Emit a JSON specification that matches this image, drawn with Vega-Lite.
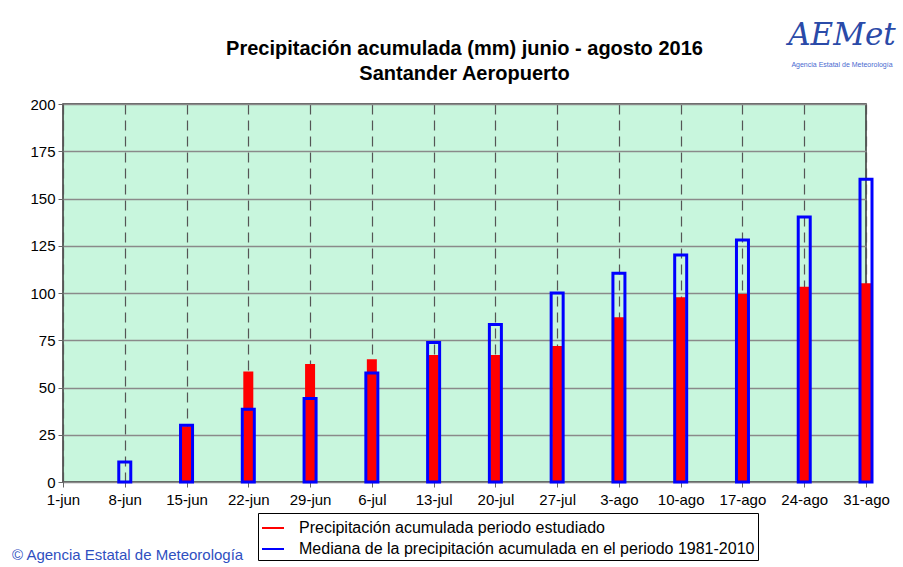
{
  "$schema": "https://vega.github.io/schema/vega-lite/v6.json",
  "width": 803,
  "height": 378,
  "autosize": {"type": "none"},
  "padding": {"left": 63, "top": 104, "right": 37, "bottom": 85},
  "background": "white",
  "title": {
    "text": "Precipitación acumulada (mm) junio - agosto 2016",
    "subtitle": "Santander Aeropuerto",
    "frame": "group",
    "anchor": "middle",
    "fontSize": 20,
    "subtitleFontSize": 20,
    "fontWeight": "bold",
    "subtitleFontWeight": "bold",
    "subtitleColor": "black",
    "color": "black",
    "offset": -64,
    "subtitlePadding": 5
  },
  "config": {
    "font": "Liberation Sans",
    "view": {"fill": "#c8f6dd", "stroke": "#333333", "strokeWidth": 1.5},
    "axis": {"labelFont": "Liberation Sans", "labelFontSize": 15, "labelColor": "black", "domain": false, "tickColor": "#666666", "tickSize": 5}
  },
  "data": {
    "values": [
      {"fecha": "8-jun", "precip": 0, "mediana": 10.6},
      {"fecha": "15-jun", "precip": 29.5, "mediana": 30},
      {"fecha": "22-jun", "precip": 58.5, "mediana": 38.5},
      {"fecha": "29-jun", "precip": 62.4, "mediana": 44.2},
      {"fecha": "6-jul", "precip": 65, "mediana": 57.7},
      {"fecha": "13-jul", "precip": 67.2, "mediana": 73.8},
      {"fecha": "20-jul", "precip": 67.2, "mediana": 83.3},
      {"fecha": "27-jul", "precip": 72, "mediana": 100},
      {"fecha": "3-ago", "precip": 87.2, "mediana": 110.4},
      {"fecha": "10-ago", "precip": 97.7, "mediana": 120.1},
      {"fecha": "17-ago", "precip": 99.5, "mediana": 128},
      {"fecha": "24-ago", "precip": 103.3, "mediana": 140.2},
      {"fecha": "31-ago", "precip": 105.1, "mediana": 160.2}
    ]
  },
  "encoding": {
    "x": {
      "field": "fecha",
      "type": "ordinal",
      "sort": null,
      "scale": {
        "type": "point",
        "padding": 0,
        "domain": ["1-jun", "8-jun", "15-jun", "22-jun", "29-jun", "6-jul", "13-jul", "20-jul", "27-jul", "3-ago", "10-ago", "17-ago", "24-ago", "31-ago"]
      },
      "axis": {
        "title": null,
        "labelAngle": 0,
        "labelPadding": 5,
        "grid": true,
        "gridColor": "#555555",
        "gridDash": [10, 6],
        "gridWidth": 1.2
      }
    }
  },
  "layer": [
    {
      "mark": {"type": "bar", "width": 10},
      "encoding": {
        "y": {
          "field": "precip",
          "type": "quantitative",
          "scale": {"domain": [0, 200]},
          "axis": {
            "title": null,
            "values": [0, 25, 50, 75, 100, 125, 150, 175, 200],
            "labelPadding": 3,
            "grid": true,
            "gridColor": "#8a8a8a",
            "gridWidth": 1.3
          }
        },
        "color": {
          "datum": "Precipitación acumulada periodo estudiado",
          "scale": {
            "domain": ["Precipitación acumulada periodo estudiado", "Mediana de la precipitación acumulada en el periodo 1981-2010"],
            "range": ["#ff0000", "#0000ff"]
          },
          "legend": {
            "title": null,
            "orient": "none",
            "legendX": 195,
            "legendY": 409,
            "direction": "vertical",
            "symbolType": "stroke",
            "symbolSize": 484,
            "symbolStrokeWidth": 2,
            "labelFont": "Liberation Sans",
            "labelFontSize": 16,
            "labelColor": "black",
            "labelOffset": 14,
            "rowPadding": 1,
            "padding": 3,
            "strokeColor": "black",
            "fillColor": "white",
            "labelLimit": 600,
            "encode": {
              "symbols": {"update": {"stroke": {"scale": "color", "field": "value"}, "strokeWidth": {"value": 2}}}
            }
          }
        }
      }
    },
    {
      "mark": {"type": "bar", "width": 12, "filled": false, "strokeWidth": 3},
      "encoding": {
        "y": {"field": "mediana", "type": "quantitative"},
        "color": {"datum": "Mediana de la precipitación acumulada en el periodo 1981-2010"}
      }
    },
    {
      "data": {"values": [{"t": "© Agencia Estatal de Meteorología"}]},
      "mark": {"type": "text", "align": "left", "baseline": "middle", "fontSize": 15, "color": "#2f4fbf", "dx": -51, "font": "Liberation Sans"},
      "encoding": {
        "x": {"datum": "1-jun"},
        "y": {"datum": -38.5},
        "text": {"field": "t"}
      }
    },
    {
      "data": {"values": [{"t": "AEMet"}]},
      "mark": {"type": "text", "align": "center", "baseline": "middle", "fontSize": 31, "fontStyle": "italic", "color": "#2a4aa8", "dx": -24, "font": "DejaVu Serif"},
      "encoding": {
        "x": {"datum": "31-ago"},
        "y": {"datum": 236},
        "text": {"field": "t"}
      }
    },
    {
      "data": {"values": [{"t": "Agencia Estatal de Meteorología"}]},
      "mark": {"type": "text", "align": "center", "baseline": "middle", "fontSize": 7, "color": "#4a6ad0", "dx": -24, "font": "Liberation Sans"},
      "encoding": {
        "x": {"datum": "31-ago"},
        "y": {"datum": 220.5},
        "text": {"field": "t"}
      }
    }
  ]
}
